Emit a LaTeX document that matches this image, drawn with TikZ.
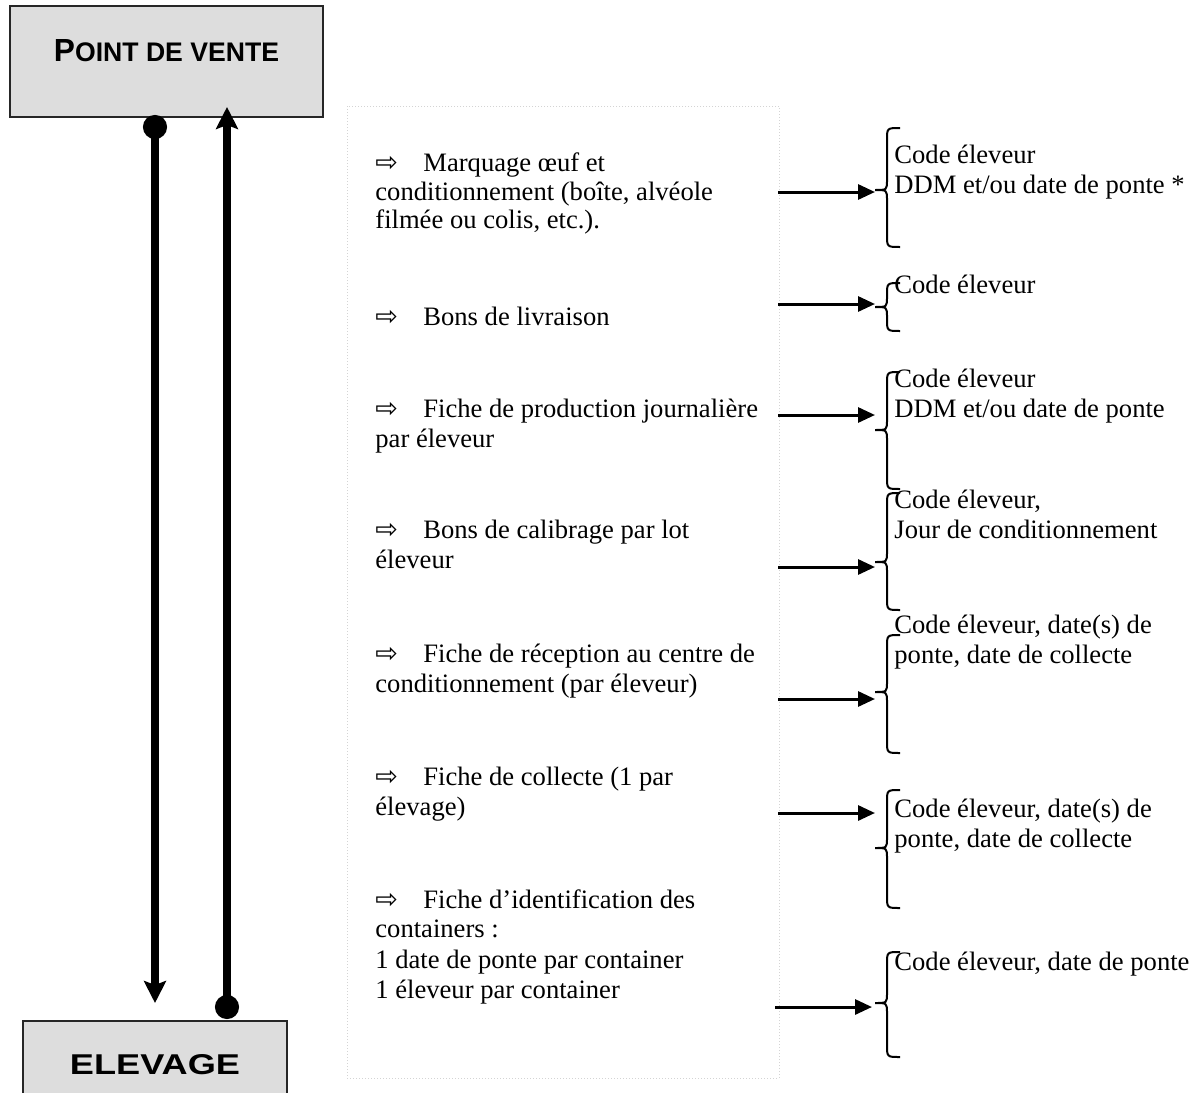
\documentclass[tikz,border=0pt]{standalone}
\usepackage{fontspec}
\setmainfont{Liberation Serif}
\newfontfamily\titlefont{Liberation Sans}
\newfontfamily\symfont{DejaVu Sans}
\usepackage{graphicx}
\usetikzlibrary{arrows.meta}
\definecolor{boxgray}{HTML}{DDDDDD}
\definecolor{panelgray}{HTML}{D4D4D4}
\newcommand\brc[4]{\draw[bracestyle] (900,#2) .. controls (887,#2) .. (887,#2+12) -- (887,#3-10) .. controls (887,#3) .. (875,#3) coordinate (#1) .. controls (887,#3) .. (887,#3+10) -- (887,#4-12) .. controls (887,#4) .. (900,#4);}
\begin{document}
\begin{tikzpicture}[x=0.5pt,y=-0.5pt,
 txt/.style={anchor=base west, inner sep=0pt, font=\fontsize{13.3}{15}\selectfont},
 sym/.style={anchor=base west, inner sep=0pt, font=\symfont\fontsize{13.5}{15}\selectfont},
 titlebox/.style={draw=black!85, line width=1pt, fill=boxgray, inner sep=0pt},
 flow/.style={line width=4pt, {Circle[length=12pt]}-{Stealth[length=11pt,width=11pt,inset=2pt]}},
 harrow/.style={line width=1.5pt, -{Triangle[length=8.5pt,width=7.5pt]}},
 bracestyle/.style={line width=1pt},
 panel/.style={draw=panelgray, densely dotted, line width=0.5pt, inner sep=0pt}
]
\useasboundingbox (0,0) rectangle (1193,1092);

% title boxes
\node[titlebox, minimum width=156.5pt, minimum height=55.5pt] (pv) at (166.5,61.5) {};
\node[inner sep=0pt] (pvt) at (166.5,51) {\resizebox{112.5pt}{11pt}{\titlefont\bfseries\fontsize{15}{18}\selectfont P\fontsize{12.6}{15}\selectfont OINT DE VENTE}};
\node[titlebox, minimum width=132pt, minimum height=44.5pt] (elev) at (155,1065.5) {};
\node[inner sep=0pt] (elevt) at (155,1065) {\resizebox{85pt}{10pt}{\titlefont\bfseries ELEVAGE}};

% panel
\node[panel, minimum width=216pt, minimum height=486pt] (panel) at (563,592) {};

% main flows
\coordinate (d1) at (155,115);
\coordinate (t1) at (155,1003);
\draw[flow] (d1) -- (t1);
\coordinate (d2) at (227,1019);
\coordinate (t2) at (227,107);
\draw[flow] (d2) -- (t2);

% panel texts
\node[sym] (a1) at (375,171) {⇨};
\node[txt] (m1a) at (423,171) {Marquage œuf et};
\node[txt] (m1b) at (375,200) {conditionnement (boîte, alvéole};
\node[txt] (m1c) at (375,228) {filmée ou colis, etc.).};

\node[sym] (a2) at (375,325) {⇨};
\node[txt] (m2a) at (423,325) {Bons de livraison};

\node[sym] (a3) at (375,417) {⇨};
\node[txt] (m3a) at (423,417) {Fiche de production journalière};
\node[txt] (m3b) at (375,447) {par éleveur};

\node[sym] (a4) at (375,538) {⇨};
\node[txt] (m4a) at (423,538) {Bons de calibrage par lot};
\node[txt] (m4b) at (375,568) {éleveur};

\node[sym] (a5) at (375,662) {⇨};
\node[txt] (m5a) at (423,662) {Fiche de réception au centre de};
\node[txt] (m5b) at (375,692) {conditionnement (par éleveur)};

\node[sym] (a6) at (375,785) {⇨};
\node[txt] (m6a) at (423,785) {Fiche de collecte (1 par};
\node[txt] (m6b) at (375,815) {élevage)};

\node[sym] (a7) at (375,908) {⇨};
\node[txt] (m7a) at (423,908) {Fiche d’identification des};
\node[txt] (m7b) at (375,937) {containers :};
\node[txt] (m7c) at (375,968) {1 date de ponte par container};
\node[txt] (m7d) at (375,998) {1 éleveur par container};

% braces
\brc{b1}{128}{190}{247}
\brc{b2}{283}{307}{331}
\brc{b3}{372}{430}{489}
\brc{b4}{493}{562}{610}
\brc{b5}{635}{692}{753}
\brc{b6}{790}{848}{908}
\brc{b7}{952}{1003}{1057}

% horizontal arrows
\coordinate (s1) at (778,192); \coordinate (e1) at (875,192);
\coordinate (s2) at (778,304); \coordinate (e2) at (875,304);
\coordinate (s3) at (778,415); \coordinate (e3) at (875,415);
\coordinate (s4) at (778,567); \coordinate (e4) at (875,567);
\coordinate (s5) at (778,699); \coordinate (e5) at (875,699);
\coordinate (s6) at (778,813); \coordinate (e6) at (875,813);
\coordinate (s7) at (775,1007); \coordinate (e7) at (872,1007);
\foreach \i in {1,...,7} {\draw[harrow] (s\i) -- (e\i);}

% brace texts
\node[txt] (r1a) at (894,163) {Code éleveur};
\node[txt] (r1b) at (894,193) {DDM et/ou date de ponte *};
\node[txt] (r2a) at (894,293) {Code éleveur};
\node[txt] (r3a) at (894,387) {Code éleveur};
\node[txt] (r3b) at (894,417) {DDM et/ou date de ponte};
\node[txt] (r4a) at (894,508) {Code éleveur,};
\node[txt] (r4b) at (894,538) {Jour de conditionnement};
\node[txt] (r5a) at (894,633) {Code éleveur, date(s) de};
\node[txt] (r5b) at (894,663) {ponte, date de collecte};
\node[txt] (r6a) at (894,817) {Code éleveur, date(s) de};
\node[txt] (r6b) at (894,847) {ponte, date de collecte};
\node[txt] (r7a) at (894,970) {Code éleveur, date de ponte};
\end{tikzpicture}
\end{document}
